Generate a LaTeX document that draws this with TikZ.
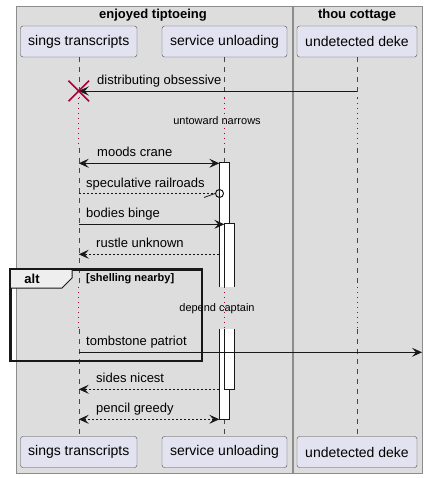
\documentclass[tikz,border=0pt]{standalone}
\usepackage{fontspec}
\setmainfont{Liberation Sans}
\usepackage{xcolor}
\usetikzlibrary{arrows.meta,shapes.misc}
\definecolor{boxbg}{HTML}{DDDDDD}
\definecolor{partbg}{HTML}{E2E2F0}
\definecolor{tabbg}{HTML}{EEEEEE}
\definecolor{delayred}{HTML}{A80036}
\definecolor{ink}{HTML}{181818}

\begin{document}
\begin{tikzpicture}[x=1pt, y=-1pt,
    >={Stealth[length=10pt, width=9pt, inset=4pt]},
    grp/.style={rectangle, draw=black!45, fill=boxbg, line width=0.8pt, anchor=north west, inner sep=0pt},
    title/.style={font=\bfseries\fontsize{13}{15}\selectfont, inner sep=0pt},
    part/.style={rectangle, draw=black!70, fill=partbg, rounded corners=2.5pt, minimum height=31pt, inner sep=0pt, font=\fontsize{14}{16}\selectfont},
    life/.style={draw=ink!80, line width=0.5pt, dash pattern=on 5pt off 5pt},
    delay/.style={draw=delayred, line width=0.8pt, dash pattern=on 1pt off 4pt},
    act/.style={rectangle, fill=white, minimum width=10pt, inner sep=0pt},
    msg/.style={font=\fontsize{13}{15}\selectfont, inner sep=0pt, anchor=base west},
    note/.style={font=\fontsize{11}{13}\selectfont, inner sep=0pt},
    call/.style={draw=ink, line width=0.8pt, ->},
    reply/.style={call, dash pattern=on 2pt off 2pt}
]
    \useasboundingbox[fill=white] (0,0) rectangle (426,478);

    % Boxes
    \node[grp, minimum width=275.5pt, minimum height=467pt] (grpA) at (16,6) {};
    \node[grp, minimum width=129pt, minimum height=467pt] (grpB) at (293,6) {};
    \node[title] (grpAtitle) at (153,15) {enjoyed tiptoeing};
    \node[title] (grpBtitle) at (357,15) {thou cottage};

    % Participants
    \node[part, minimum width=116.5pt] (sings) at (78.75,41.5) {sings transcripts};
    \node[part, minimum width=125pt] (service) at (224.5,41.5) {service unloading};
    \node[part, minimum width=120pt] (deke) at (357,41.5) {undetected deke};
    \node[part, minimum width=116.5pt] (singsbot) at (78.75,452) {sings transcripts};
    \node[part, minimum width=125pt] (servicebot) at (224.5,452) {service unloading};
    \node[part, minimum width=120pt] (dekebot) at (357,452) {undetected deke};

    % Lifelines with delays
    \coordinate (dA) at (0,98);
    \coordinate (dB) at (0,148);
    \coordinate (dC) at (0,287);
    \coordinate (dD) at (0,329);
    \foreach \p in {sings, service, deke} {
        \draw[life] (\p.south) -- (\p |- dA);
        \draw[delay] (\p |- dA) -- (\p |- dB);
        \draw[life] (\p |- dB) -- (\p |- dC);
        \draw[delay] (\p |- dC) -- (\p |- dD);
        \draw[life] (\p |- dD) -- (\p bot.north);
    }

    % Activations
    \node[act, minimum height=124pt] (actA) at (224.5,225) {};
    \draw[ink, line width=0.8pt] (actA.south west) -- (actA.north west) -- (actA.north east) -- (actA.south east);
    \node[act, minimum height=63pt] (actC) at (229.5,255.5) {};
    \draw[ink, line width=0.8pt] (actC.south west) -- (actC.north west) -- (actC.north east) -- (actC.south east);
    \node[act, minimum height=90pt] (actB) at (224.5,374) {};
    \draw[ink, line width=0.8pt] (actB.north west) -- (actB.south west) -- (actB.south east) -- (actB.north east);
    \node[act, minimum height=60pt] (actD) at (229.5,359) {};
    \draw[ink, line width=0.8pt] (actD.north west) -- (actD.south west) -- (actD.south east) -- (actD.north east);

    % Alt frame
    \node[draw=ink, line width=1.5pt, anchor=north west, minimum width=191pt, minimum height=91pt, inner sep=0pt] (alt) at (10,269) {};
    \draw[draw=ink, line width=1pt, fill=tabbg] (alt.north west) -- ++(62,0) -- ++(0,9) -- ++(-10,10) -- ++(-52,0) -- cycle;
    \draw[draw=ink, line width=1.5pt] (alt.north west) rectangle (alt.south east);
    \node[title] (altlabel) at (32,278.5) {alt};
    \node[note, font=\bfseries\fontsize{11}{13}\selectfont, anchor=west] (guard) at (86,279) {[shelling nearby]};

    % Messages
    \coordinate (r1) at (0,91);
    \coordinate (r3) at (0,163.3);
    \coordinate (r5) at (0,224.3);
    \coordinate (r6) at (0,254.3);
    \coordinate (r9) at (0,389.3);
    \coordinate (r10) at (0,419.3);
    \coordinate (edge) at (422,352.3);

    \draw[call] (deke |- r1) -- (sings |- r1);
    \node[cross out, draw=delayred, line width=1.5pt, minimum size=19pt, inner sep=0pt] (xmark) at (sings |- r1) {};
    \node[msg] (m1) at (97,84.5) {distributing obsessive};

    \node[note] (n1) at (217,121) {untoward narrows};

    \draw[call, <->] (sings |- r3) -- (actA.west |- r3);
    \node[msg] (m3) at (97,156.8) {moods crane};

    \node[circle, draw=ink, line width=1pt, inner sep=0pt, minimum size=8pt] (lost) at (219.5,193.5) {};
    \draw[reply, -] (sings |- lost) -- (lost.west);
    \draw[ink, line width=0.8pt] ([shift={(-11,4)}]lost.west) -- (lost.west);
    \node[msg] (m4) at (86,187) {speculative railroads};

    \draw[call] (sings |- r5) -- (actC.west |- r5);
    \node[msg] (m5) at (86,217.8) {bodies binge};

    \draw[reply] (actA.west |- r6) -- (sings |- r6);
    \node[msg] (m6) at (96,247.8) {rustle unknown};

    \node[note] (n2) at (217,309) {depend captain};

    \draw[call] (sings |- edge) -- (edge);
    \node[msg] (m8) at (86,345.8) {tombstone patriot};

    \draw[reply] (actB.west |- r9) -- (sings |- r9);
    \node[msg] (m9) at (96,382.8) {sides nicest};

    \draw[reply, <->] (sings |- r10) -- (actB.west |- r10);
    \node[msg] (m10) at (96,412.8) {pencil greedy};
\end{tikzpicture}
\end{document}
